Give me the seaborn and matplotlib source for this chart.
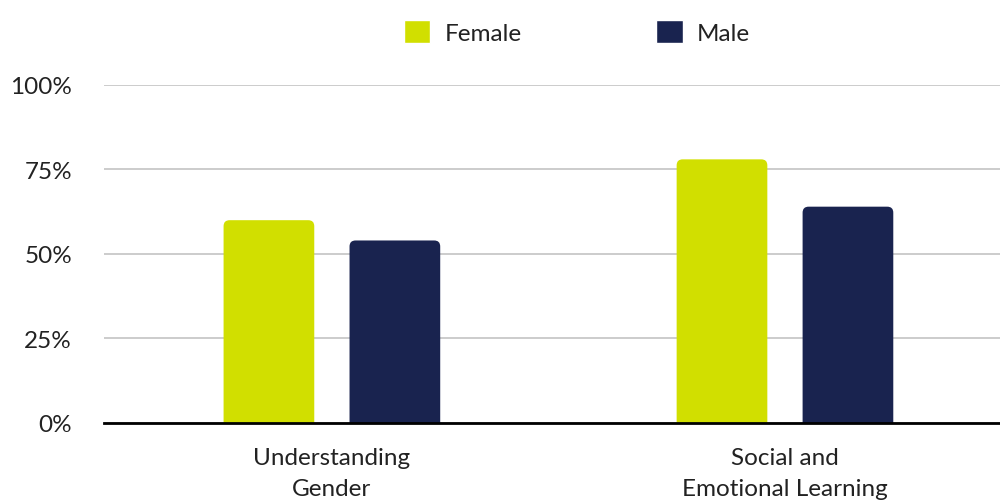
import matplotlib.pyplot as plt
import seaborn as sns
import pandas as pd
from matplotlib.patches import FancyBboxPatch

categories = ["Understanding\nGender", "Social and\nEmotional Learning"]
female = [60, 78]
male = [54, 64]
groups = ["Female", "Male"]
colors = ["#D1DF00", "#19234F"]

df = pd.DataFrame({
    "category": categories * 2,
    "group": ["Female"] * 2 + ["Male"] * 2,
    "value": female + male,
})

sns.set_style("white")
plt.rcParams["font.family"] = ["Lato", "DejaVu Sans"]

fig = plt.figure(figsize=(10, 5.02), dpi=100)
ax = fig.add_axes([0.104, 0.1554, 0.9075, 0.6733])

sns.barplot(data=df, x="category", y="value", hue="group", hue_order=groups,
            palette=colors, saturation=1, width=0.556, gap=0.28, ax=ax, legend=True)

# swap bars for rounded-top versions
rx = 6 / 453
ry = 6 / 3.38
for p in list(ax.patches):
    if p.get_height() <= 0:
        continue
    x, w, h = p.get_x(), p.get_width(), p.get_height()
    fb = FancyBboxPatch((x, -10), w, h + 10,
                        boxstyle=f"round,pad=0,rounding_size={rx}",
                        mutation_aspect=ry / rx,
                        facecolor=p.get_facecolor(), edgecolor="none", zorder=2)
    ax.add_patch(fb)
    p.set_visible(False)

ax.set_xlim(-0.503, 1.5)
ax.set_ylim(0, 100)
ax.set_yticks([0, 25, 50, 75, 100])
ax.set_yticklabels(["0%", "25%", "50%", "75%", "100%"])
ax.yaxis.grid(True, color="#C4C4C4", linewidth=1.2)
ax.set_axisbelow(True)
ax.set_xlabel("")
ax.set_ylabel("")
for s in ["top", "right", "left"]:
    ax.spines[s].set_visible(False)
ax.spines["bottom"].set_color("black")
ax.spines["bottom"].set_linewidth(2)
ax.spines["bottom"].set_zorder(5)
ax.tick_params(axis="both", length=0, labelsize=17.5, colors="#222222")
ax.tick_params(axis="y", pad=23)
ax.tick_params(axis="x", pad=17)
ax.set_xticks(range(len(categories)))
ax.set_xticklabels(categories, linespacing=1.6)

handles, labels = ax.get_legend_handles_labels()
ax.legend(handles, labels, loc="center", bbox_to_anchor=(0.577, 0.935),
          bbox_transform=fig.transFigure, ncol=2, frameon=False, fontsize=17.5,
          handlelength=1.1, handleheight=1.1, handletextpad=0.6,
          columnspacing=5.5, labelcolor="#222222")

fig.savefig("out.png", dpi=100)
